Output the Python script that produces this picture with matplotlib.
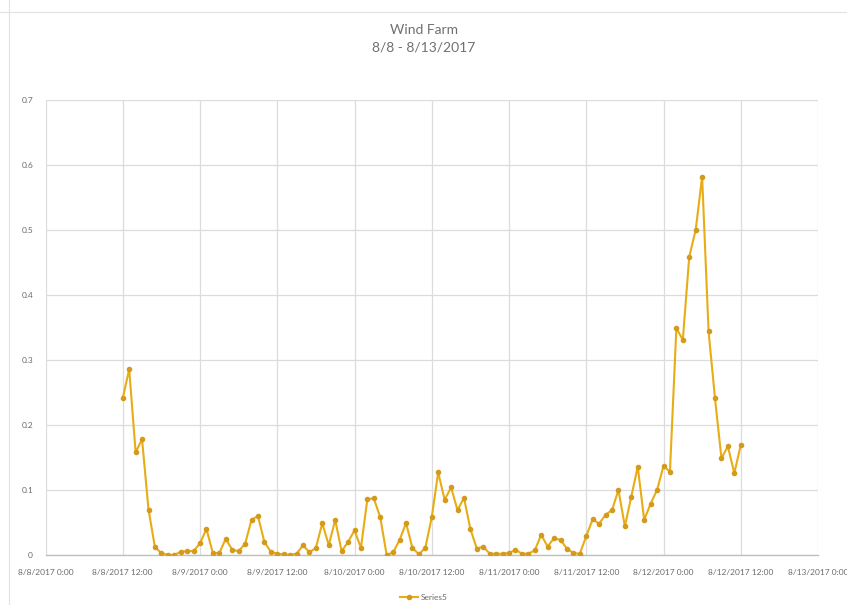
import matplotlib
matplotlib.use("Agg")
import matplotlib.pyplot as plt
import pandas as pd
from matplotlib.lines import Line2D

# Hourly output, 8/8/2017 12:00 through 8/12/2017 12:00
start_time = "2017-08-08 12:00"
series5 = [
    0.241, 0.286, 0.158, 0.178, 0.070, 0.012, 0.003, 0.000, 0.000, 0.005,
    0.006, 0.006, 0.018, 0.040, 0.003, 0.003, 0.025, 0.008, 0.006, 0.017,
    0.054, 0.060, 0.020, 0.005, 0.002, 0.001, 0.000, 0.002, 0.015, 0.004,
    0.011, 0.049, 0.015, 0.054, 0.006, 0.020, 0.038, 0.011, 0.086, 0.087,
    0.058, 0.000, 0.004, 0.023, 0.049, 0.011, 0.001, 0.011, 0.058, 0.127,
    0.085, 0.104, 0.069, 0.088, 0.040, 0.010, 0.013, 0.002, 0.002, 0.002,
    0.003, 0.008, 0.002, 0.002, 0.007, 0.031, 0.013, 0.026, 0.023, 0.010,
    0.003, 0.002, 0.029, 0.055, 0.048, 0.062, 0.069, 0.100, 0.044, 0.090,
    0.136, 0.054, 0.079, 0.100, 0.137, 0.128, 0.349, 0.331, 0.459, 0.500,
    0.582, 0.344, 0.241, 0.149, 0.167, 0.126, 0.169,
]
times = pd.date_range(start_time, periods=len(series5), freq="h")

x_tick_times = pd.date_range("2017-08-08 00:00", "2017-08-13 00:00", freq="12h")
x_tick_labels = [
    "8/8/2017 0:00", "8/8/2017 12:00", "8/9/2017 0:00", "8/9/2017 12:00",
    "8/10/2017 0:00", "8/10/2017 12:00", "8/11/2017 0:00", "8/11/2017 12:00",
    "8/12/2017 0:00", "8/12/2017 12:00", "8/13/2017 0:00",
]
y_ticks = [0, 0.1, 0.2, 0.3, 0.4, 0.5, 0.6, 0.7]
y_tick_labels = ["0", "0.1", "0.2", "0.3", "0.4", "0.5", "0.6", "0.7"]

plt.rcParams["font.family"] = ["Lato", "DejaVu Sans"]

W, H = 847, 605
fig = plt.figure(figsize=(W / 100, H / 100), dpi=100)
fig.patch.set_facecolor("white")

ax = fig.add_axes([45.5 / W, 1 - 555 / H, (818 - 45.5) / W, (555 - 100) / H])

line_color = "#E8AC16"
marker_color = "#D49A1C"
ax.plot(times, series5, color=line_color, lw=1.5, marker="o", ms=3.0,
        mfc=marker_color, mec=marker_color, zorder=3)

ax.set_xlim(x_tick_times[0], x_tick_times[-1])
ax.set_ylim(0, 0.7)
ax.set_xticks(x_tick_times)
ax.set_xticklabels(x_tick_labels)
ax.set_yticks(y_ticks)
ax.set_yticklabels(y_tick_labels)

ax.grid(True, color="#DCDCDC", lw=0.9)
ax.set_axisbelow(True)
for side in ("top", "right", "left"):
    ax.spines[side].set_visible(False)
ax.spines["bottom"].set_color("#BFBFBF")
ax.spines["bottom"].set_linewidth(1.0)
ax.tick_params(axis="both", length=0, labelsize=6.0, labelcolor="#6A6A6A")
ax.tick_params(axis="x", pad=10)
ax.tick_params(axis="y", pad=9)

fig.text(0.5, 1 - 30 / H, "Wind Farm", ha="center", va="center",
         fontsize=10, color="#707070")
fig.text(0.5, 1 - 47 / H, "8/8 - 8/13/2017", ha="center", va="center",
         fontsize=10, color="#707070")

handle = Line2D([], [], color=line_color, lw=1.5, marker="o", ms=3.0,
                mfc=marker_color, mec=marker_color)
fig.legend([handle], ["Series5"], loc="center", bbox_to_anchor=(0.5, 1 - 597 / H),
           frameon=False, fontsize=6, labelcolor="#6A6A6A", handlelength=2.2,
           handletextpad=0.3)

# faint ruler lines along the top and left edges
fig.add_artist(Line2D([0, 1], [1 - 12 / H, 1 - 12 / H], color="#E2E2E2", lw=0.8))
fig.add_artist(Line2D([9 / W, 9 / W], [0, 1], color="#E2E2E2", lw=0.8))

fig.savefig("out.png", dpi=100, facecolor="white")
